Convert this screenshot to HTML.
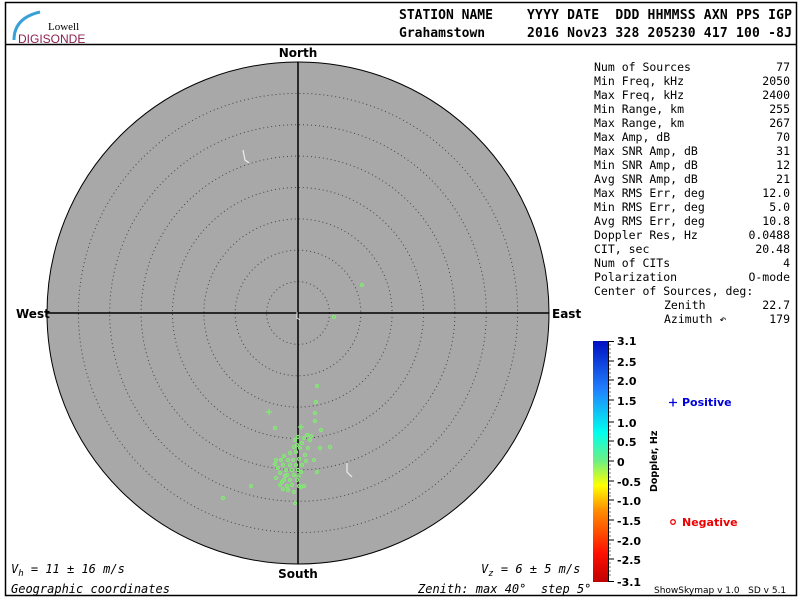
<!DOCTYPE html>
<html><head><meta charset="utf-8"><style>
body{margin:0;background:#fff;}
svg{display:block;font-family:"DejaVu Sans Mono","Liberation Mono",monospace;}
</style></head><body>
<svg width="800" height="600" viewBox="0 0 800 600" xmlns="http://www.w3.org/2000/svg">
<defs>
<linearGradient id="cb" x1="0" y1="1" x2="0" y2="0">
<stop offset="0" stop-color="#c00000"/><stop offset="0.12" stop-color="#ff1000"/>
<stop offset="0.3" stop-color="#ff9000"/><stop offset="0.4" stop-color="#ffff00"/>
<stop offset="0.5" stop-color="#70f080"/><stop offset="0.62" stop-color="#00ffee"/>
<stop offset="0.8" stop-color="#2080ff"/><stop offset="1" stop-color="#0010c0"/>
</linearGradient>
</defs>
<rect x="0" y="0" width="800" height="600" fill="#fff"/>
<rect x="5.5" y="2.5" width="791" height="593" fill="none" stroke="#000" stroke-width="1.5"/>
<line x1="5" y1="44.5" x2="797" y2="44.5" stroke="#000" stroke-width="1.5"/>
<path d="M14 40 Q14 18 40 12" fill="none" stroke="#3aa0d8" stroke-width="3"/>
<text x="48" y="30" font-family="Liberation Serif,serif" font-size="11" fill="#000">Lowell</text>
<text x="18" y="43" font-family="Liberation Sans,sans-serif" font-size="12" fill="#8b2050">DIGISONDE</text>
<g font-weight="bold" font-size="13" fill="#000">
<text x="399" y="19">STATION NAME</text>
<text x="527" y="19" textLength="265" xml:space="preserve">YYYY DATE  DDD HHMMSS AXN PPS IGP</text>
<text x="399" y="37">Grahamstown</text>
<text x="527" y="37" textLength="265">2016 Nov23 328 205230 417 100 -8J</text>
</g>
<circle cx="298" cy="313" r="251" fill="#a8a8a8" stroke="#000" stroke-width="1"/>
<g fill="none" stroke="#444" stroke-width="1" stroke-dasharray="1,3">
<circle cx="298" cy="313" r="31.4"/><circle cx="298" cy="313" r="62.8"/>
<circle cx="298" cy="313" r="94.1"/><circle cx="298" cy="313" r="125.5"/>
<circle cx="298" cy="313" r="156.9"/><circle cx="298" cy="313" r="188.3"/>
<circle cx="298" cy="313" r="219.6"/>
</g>
<line x1="298" y1="62" x2="298" y2="564" stroke="#000" stroke-width="1.5"/>
<line x1="47" y1="313" x2="549" y2="313" stroke="#000" stroke-width="1.5"/>
<g font-family="DejaVu Sans,sans-serif" font-weight="bold" font-size="12" fill="#000">
<text x="298" y="57" text-anchor="middle">North</text>
<text x="298" y="578" text-anchor="middle">South</text>
<text x="16" y="318">West</text>
<text x="552" y="318">East</text>
</g>
<path d="M243 150 L245 160 L249 163" stroke="#eee" fill="none" stroke-width="1.2"/>
<path d="M347 463 L347 472 L352 477" stroke="#eee" fill="none" stroke-width="1.2"/>
<path d="M297 312 L297 318 L300 320" stroke="#eee" fill="none" stroke-width="1"/>
<g fill="none" stroke="#80ee70" stroke-width="1.2">
<circle cx="362" cy="285" r="1.5"/><circle cx="334" cy="317" r="1.5"/>
<circle cx="317" cy="386" r="1.5"/><circle cx="316" cy="402" r="1.5"/>
<circle cx="315" cy="413" r="1.5"/><circle cx="315" cy="421" r="1.5"/>
<circle cx="321" cy="430" r="1.5"/><circle cx="275" cy="428" r="1.5"/>
<circle cx="330" cy="447" r="1.5"/><circle cx="307" cy="435" r="1.5"/>
<circle cx="311" cy="436" r="1.5"/><circle cx="304" cy="438" r="1.5"/>
<circle cx="310" cy="440" r="1.5"/><circle cx="298" cy="437" r="1.5"/>
<circle cx="308" cy="448" r="1.5"/><circle cx="302" cy="443" r="1.5"/>
<circle cx="295" cy="440" r="1.5"/><circle cx="297" cy="445" r="1.5"/>
<circle cx="294" cy="447" r="1.5"/><circle cx="300" cy="448" r="1.5"/>
<circle cx="305" cy="455" r="1.5"/><circle cx="290" cy="453" r="1.5"/>
<circle cx="296" cy="452" r="1.5"/><circle cx="284" cy="456" r="1.5"/>
<circle cx="276" cy="460" r="1.5"/><circle cx="275" cy="464" r="1.5"/>
<circle cx="281" cy="460" r="1.5"/><circle cx="288" cy="460" r="1.5"/>
<circle cx="293" cy="460" r="1.5"/><circle cx="299" cy="459" r="1.5"/>
<circle cx="306" cy="461" r="1.5"/><circle cx="283" cy="465" r="1.5"/>
<circle cx="290" cy="465" r="1.5"/><circle cx="296" cy="465" r="1.5"/>
<circle cx="286" cy="470" r="1.5"/><circle cx="292" cy="470" r="1.5"/>
<circle cx="298" cy="470" r="1.5"/><circle cx="280" cy="473" r="1.5"/>
<circle cx="287" cy="475" r="1.5"/><circle cx="294" cy="475" r="1.5"/>
<circle cx="301" cy="472" r="1.5"/><circle cx="284" cy="480" r="1.5"/>
<circle cx="290" cy="480" r="1.5"/><circle cx="297" cy="480" r="1.5"/>
<circle cx="280" cy="485" r="1.5"/><circle cx="287" cy="486" r="1.5"/>
<circle cx="292" cy="485" r="1.5"/><circle cx="299" cy="486" r="1.5"/>
<circle cx="283" cy="489" r="1.5"/><circle cx="288" cy="490" r="1.5"/>
<circle cx="294" cy="492" r="1.5"/><circle cx="301" cy="487" r="1.5"/>
<circle cx="282" cy="482" r="1.5"/><circle cx="314" cy="460" r="1.5"/>
<circle cx="317" cy="472" r="1.5"/><circle cx="320" cy="448" r="1.5"/>
<circle cx="251" cy="486" r="1.5"/><circle cx="223" cy="498" r="1.5"/>
<circle cx="295" cy="503" r="1.5"/><circle cx="304" cy="486" r="1.5"/>
<circle cx="278" cy="468" r="1.5"/><circle cx="276" cy="478" r="1.5"/>
<circle cx="302" cy="465" r="1.5"/><circle cx="285" cy="476" r="1.5"/>
</g>
<g stroke="#80ee70" stroke-width="1.2">
<path d="M266 412 h6 M269 409 v6"/><path d="M298 427 h6 M301 424 v6"/>
<path d="M295 476 h6 M298 473 v6"/>
</g>
<g font-style="italic" font-size="12" fill="#000">
<text x="11" y="573">V<tspan font-size="9" dy="3">h</tspan><tspan dy="-3"> = 11 ± 16 m/s</tspan></text>
<text x="11" y="593">Geographic coordinates</text>
<text x="481" y="573">V<tspan font-size="9" dy="3">z</tspan><tspan dy="-3"> = 6 ± 5 m/s</tspan></text>
<text x="418" y="593" xml:space="preserve">Zenith: max 40°  step 5°</text>
</g>
<g font-size="11.5" fill="#000">
<text x="594" y="71">Num of Sources</text><text x="790" y="71" text-anchor="end">77</text>
<text x="594" y="85">Min Freq, kHz</text><text x="790" y="85" text-anchor="end">2050</text>
<text x="594" y="99">Max Freq, kHz</text><text x="790" y="99" text-anchor="end">2400</text>
<text x="594" y="113">Min Range, km</text><text x="790" y="113" text-anchor="end">255</text>
<text x="594" y="127">Max Range, km</text><text x="790" y="127" text-anchor="end">267</text>
<text x="594" y="141">Max Amp, dB</text><text x="790" y="141" text-anchor="end">70</text>
<text x="594" y="155">Max SNR Amp, dB</text><text x="790" y="155" text-anchor="end">31</text>
<text x="594" y="169">Min SNR Amp, dB</text><text x="790" y="169" text-anchor="end">12</text>
<text x="594" y="183">Avg SNR Amp, dB</text><text x="790" y="183" text-anchor="end">21</text>
<text x="594" y="197">Max RMS Err, deg</text><text x="790" y="197" text-anchor="end">12.0</text>
<text x="594" y="211">Min RMS Err, deg</text><text x="790" y="211" text-anchor="end">5.0</text>
<text x="594" y="225">Avg RMS Err, deg</text><text x="790" y="225" text-anchor="end">10.8</text>
<text x="594" y="239">Doppler Res, Hz</text><text x="790" y="239" text-anchor="end">0.0488</text>
<text x="594" y="253">CIT, sec</text><text x="790" y="253" text-anchor="end">20.48</text>
<text x="594" y="267">Num of CITs</text><text x="790" y="267" text-anchor="end">4</text>
<text x="594" y="281">Polarization</text><text x="790" y="281" text-anchor="end">O-mode</text>
<text x="594" y="295">Center of Sources, deg:</text>
<text x="664" y="309">Zenith</text><text x="790" y="309" text-anchor="end">22.7</text>
<text x="664" y="323">Azimuth ↶</text><text x="790" y="323" text-anchor="end">179</text>
</g>
<rect x="593" y="341" width="15" height="241" fill="url(#cb)"/>
<g stroke="#000" stroke-width="1">
<line x1="608.5" y1="341" x2="608.5" y2="582"/>
<path d="M608 341.5h6M608 361h6M608 380h6M608 400h6M608 422h6M608 441h6M608 461h6M608 481h6M608 500h6M608 520h6M608 540h6M608 559h6M608 581.5h6"/>
</g>
<g stroke="#000" stroke-width="0.6">
<path d="M608 345h3M608 349h3M608 353h3M608 357h3M608 365h3M608 369h3M608 373h3M608 377h3M608 384h3M608 388h3M608 392h3M608 396h3M608 404h3M608 408h3M608 412h3M608 416h3M608 426h3M608 430h3M608 434h3M608 437h3M608 445h3M608 449h3M608 453h3M608 457h3M608 465h3M608 469h3M608 473h3M608 477h3M608 485h3M608 489h3M608 493h3M608 496h3M608 504h3M608 508h3M608 512h3M608 516h3M608 524h3M608 528h3M608 532h3M608 536h3M608 544h3M608 548h3M608 551h3M608 555h3M608 563h3M608 567h3M608 571h3M608 575h3"/>
</g>
<g font-family="DejaVu Sans,sans-serif" font-weight="bold" font-size="11" fill="#000">
<text x="617" y="345">3.1</text><text x="617" y="366">2.5</text>
<text x="617" y="385">2.0</text><text x="617" y="405">1.5</text>
<text x="617" y="427">1.0</text><text x="617" y="446">0.5</text>
<text x="617" y="466">0</text><text x="617" y="486">-0.5</text>
<text x="617" y="505">-1.0</text><text x="617" y="525">-1.5</text>
<text x="617" y="545">-2.0</text><text x="617" y="564">-2.5</text>
<text x="617" y="586">-3.1</text>
<text transform="translate(657,492) rotate(-90)" font-size="9.5">Doppler, Hz</text>
<text x="682" y="406" fill="#0000dd" font-size="11">Positive</text>
<text x="682" y="526" fill="#ee0000" font-size="11">Negative</text>
</g>
<path d="M669 402.5h8M673 398.5v8" stroke="#0000dd" stroke-width="1.3"/>
<circle cx="673" cy="522" r="2.3" fill="none" stroke="#ee0000" stroke-width="1.3"/>
<text x="654" y="593" font-family="DejaVu Sans,sans-serif" font-size="9" fill="#000" xml:space="preserve">ShowSkymap v 1.0   SD v 5.1</text>
</svg>
</body></html>
